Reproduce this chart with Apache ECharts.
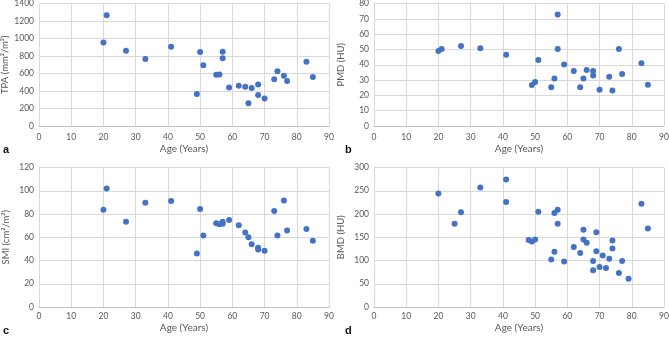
<!DOCTYPE html>
<html>
<head>
<meta charset="utf-8">
<script src="https://cdn.jsdelivr.net/npm/echarts@6/dist/echarts.min.js"></script>
<style>
  html, body { margin: 0; padding: 0; background: #fff; overflow: hidden; }
  #myChart { width: 669px; height: 337px; }
</style>
</head>
<body>
<div id="myChart"></div>
<script>
// values, [age, value]
const tpaData = [
  [20, 955], [21, 1265], [27, 860], [33, 765], [41, 905], [49, 365], [50, 845],
  [51, 695], [55, 585], [56, 590], [57, 850], [57, 775], [59, 440], [62, 460],
  [64, 450], [65, 260], [66, 435], [68, 475], [68, 355], [70, 315], [73, 535],
  [74, 625], [76, 575], [77, 515], [83, 735], [85, 560]
];
const pmdData = [
  [20, 48.9], [21, 50.3], [27, 52.2], [33, 50.8], [41, 46.5], [49, 26.7], [50, 28.8],
  [51, 43.1], [55, 25.3], [56, 31.1], [57, 72.8], [57, 50.3], [59, 40.1], [62, 35.9],
  [64, 25.3], [65, 31.1], [66, 36.5], [68, 35.9], [68, 32.9], [70, 23.6], [73, 32.2],
  [74, 23.2], [76, 50.3], [77, 34.0], [83, 40.9], [85, 26.9]
];
const smiData = [
  [20, 83.7], [21, 102], [27, 73.4], [33, 89.7], [41, 91.1], [49, 46], [50, 84.3],
  [51, 61.4], [55, 72], [56, 71.1], [57, 73.4], [57, 71.7], [59, 74.9], [62, 70.3],
  [64, 64], [65, 60], [66, 54], [68, 50.9], [68, 49.4], [70, 48.3], [73, 82.6],
  [74, 61.4], [76, 91.7], [77, 65.7], [83, 67.1], [85, 56.9]
];
const bmdData = [
  [20, 244], [25, 179], [27, 204], [33, 257], [41, 274], [41, 226], [48, 144],
  [49, 141], [50, 145], [51, 205], [55, 102], [56, 202], [56, 119], [57, 209],
  [57, 179], [59, 98], [62, 129], [64, 116], [65, 166], [65, 145], [66, 138],
  [68, 99], [68, 79], [69, 161], [69, 120], [70, 86], [71, 111], [72, 84],
  [73, 104], [74, 143], [74, 126], [76, 73], [77, 99], [79, 61], [83, 222], [85, 169]
];

const xName = 'Age (Years)';
const yNames = ['TPA (mm\u00b2/m\u00b2)', 'PMD (HU)', 'SMI (cm\u00b2/m\u00b2)', 'BMD (HU)'];
const yMax = [1400, 80, 120, 300];
const yStep = [200, 10, 20, 50];
const panelLetters = ['a', 'b', 'c', 'd'];
const allData = [tpaData, pmdData, smiData, bmdData];

const myChart = echarts.init(document.getElementById('myChart'));

const font = 'Lato, "Liberation Sans", sans-serif';
const labelGray = '#595959';
const gridGray = '#d9d9d9';

const grids = [
  { left: 39, top: 3.5, width: 290, height: 122.5, outerBoundsMode: 'none' },
  { left: 374, top: 3.5, width: 290, height: 122.5, outerBoundsMode: 'none' },
  { left: 39, top: 167.5, width: 290, height: 139.5, outerBoundsMode: 'none' },
  { left: 374, top: 167.5, width: 290, height: 139.5, outerBoundsMode: 'none' }
];

const xAxes = grids.map((g, i) => ({
  gridIndex: i,
  type: 'value',
  min: 0, max: 90, interval: 10,
  axisLine: { show: true, lineStyle: { color: '#bfbfbf' } },
  axisTick: { show: false },
  axisLabel: { color: labelGray, fontFamily: font, fontSize: 8.5, margin: i < 2 ? 7 : 5 },
  splitLine: { show: true, lineStyle: { color: gridGray } }
}));

const yAxes = grids.map((g, i) => ({
  gridIndex: i,
  type: 'value',
  min: 0, max: yMax[i], interval: yStep[i],
  name: yNames[i],
  nameLocation: 'middle',
  nameGap: 28,
  nameTextStyle: { color: labelGray, fontFamily: font, fontSize: 9.5 },
  axisLine: { show: true, lineStyle: { color: gridGray } },
  axisTick: { show: false },
  axisLabel: {
    color: labelGray, fontFamily: font, fontSize: 8.5, margin: 5,
    formatter: v => String(v)
  },
  splitLine: { show: true, lineStyle: { color: gridGray } }
}));

const series = allData.map((d, i) => ({
  type: 'scatter',
  xAxisIndex: i,
  yAxisIndex: i,
  data: d,
  symbolSize: 6,
  itemStyle: { color: '#4472c4', opacity: 1 }
}));

// panel letters and the x-axis titles
const letterTitles = panelLetters.map((t, i) => ({
  text: t,
  left: i % 2 === 0 ? 3 : 345,
  top: i < 2 ? 144 : 325,
  padding: 0,
  textStyle: { fontFamily: '"Liberation Sans", Arial, sans-serif', fontWeight: 'bold', fontSize: 11, color: '#111' }
}));
const nameTitles = grids.map((g, i) => ({
  text: xName,
  left: g.left + g.width / 2,
  textAlign: 'center',
  top: i < 2 ? 144 : 323,
  padding: 0,
  textStyle: { fontFamily: font, fontWeight: 'normal', fontSize: 10, color: labelGray }
}));

const option = {
  animation: false,
  title: letterTitles.concat(nameTitles),
  grid: grids,
  xAxis: xAxes,
  yAxis: yAxes,
  series: series
};

myChart.setOption(option);
</script>
</body>
</html>
